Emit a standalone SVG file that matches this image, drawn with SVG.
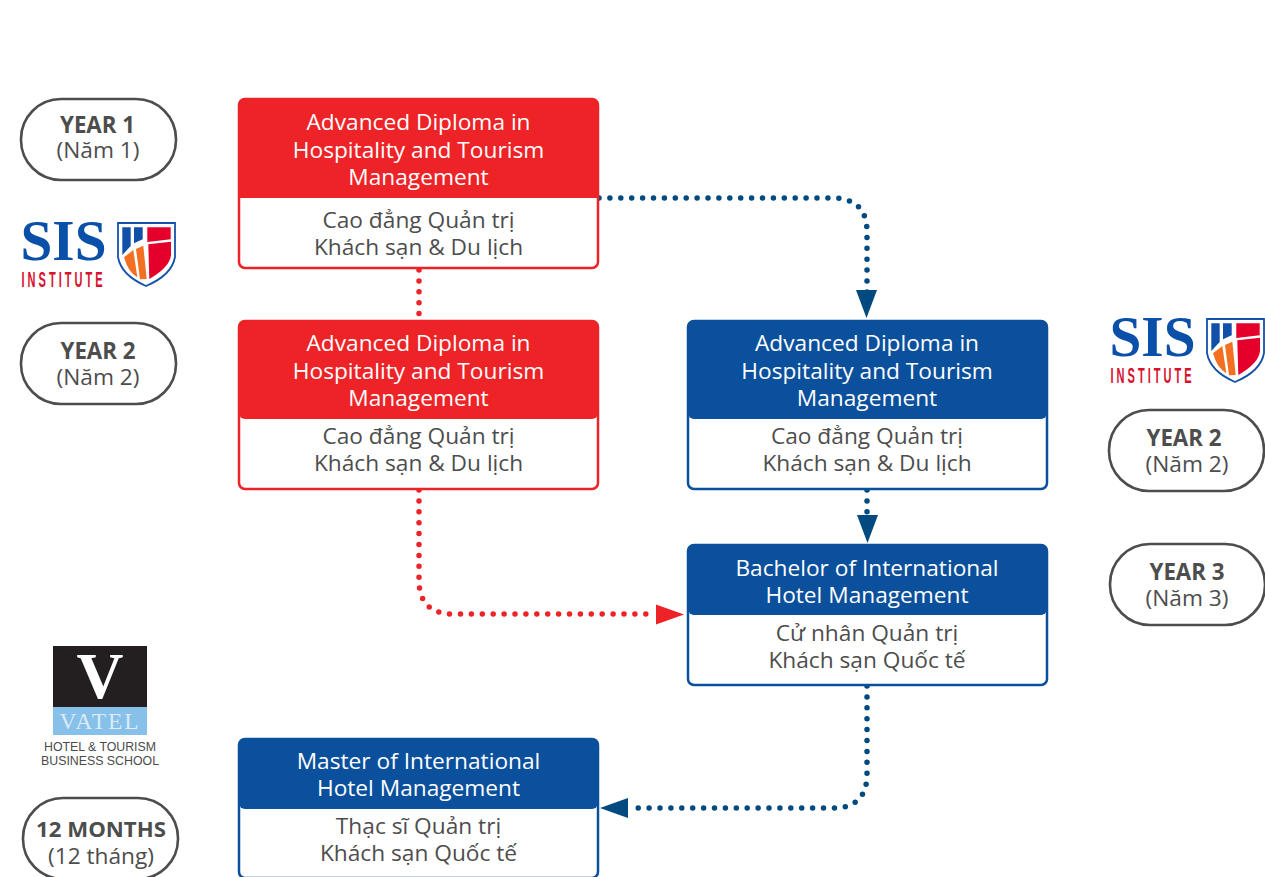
<svg xmlns="http://www.w3.org/2000/svg" width="1265" height="877" viewBox="0 0 1265 877">
<style>
text{font-family:"Open Sans","Liberation Sans",sans-serif;text-anchor:middle}
.h{font-size:22.7px;fill:#fff}
.b{font-size:22.7px;fill:#4d4d4d}
.y{font-size:22.3px;fill:#4d4d4d;font-weight:700}
.n{font-size:22.7px;fill:#4d4d4d}
.m{font-size:22.2px}
.pill{fill:#fff;stroke:#4d4d4d;stroke-width:2.6}
.sis{font-family:"Liberation Serif",serif;font-weight:700;font-size:57px;fill:#0b50a8}
.inst{font-family:"Liberation Sans",sans-serif;font-weight:700;font-size:22px;fill:#d8112f;letter-spacing:6px}
.d{fill:none;stroke-width:5.5;stroke-linecap:round;stroke-dasharray:0 10.9}
.rb{stroke:#ee2327;fill:#fff;stroke-width:2.5}.rf{fill:#ee2327}
.bb{stroke:#0b509c;fill:#fff;stroke-width:2.5}.bf{fill:#0b509c}
</style>
<defs>
<g id="logo">
<text class="sis" x="63.500" y="260" textLength="86" lengthAdjust="spacingAndGlyphs">SIS</text>
<text class="inst" x="63.500" y="287" textLength="84" lengthAdjust="spacingAndGlyphs">INSTITUTE</text>
<path d="M118 223H175V257Q172 275 146 286Q121 275 118 257Z" fill="#fff" stroke="#1352a8" stroke-width="1.800"/>
<path d="M122.300 227.300H130.700V246L122.300 255Z" fill="#1050a8"/>
<path d="M134 227.300H142.700V239.300L134 243.300Z" fill="#1050a8"/>
<path d="M147.300 227.300H170.700V239.300L147.300 242Z" fill="#e4002b"/>
<path d="M124 257.300L133.300 250L137.300 277.300Q128 272 124 257.300Z" fill="#f36f21"/>
<path d="M136 249L143.300 245.700L146.700 279L140 279.300Z" fill="#f36f21"/>
<path d="M148.300 244.300L171 241.700V255Q170 267 149.300 279Z" fill="#e4002b"/>
</g>
</defs>
<g id="connectors">
<path class="d" stroke="#004a80" d="M599 198H832Q867 198 867 232V292"/>
<path class="d" stroke="#ee2327" d="M419 270V320"/>
<path class="d" stroke="#ee2327" d="M419 490V580Q419 614 453 614H656"/>
<path class="d" stroke="#004a80" d="M867 490V516"/>
<path class="d" stroke="#004a80" d="M867 686V774Q867 808 833 808H630"/>
<path fill="#004a80" d="M856 290H877L866.500 318Z"/>
<path fill="#004a80" d="M857 515H878L867.500 543Z"/>
<path fill="#ee2327" d="M656 604.500V624.500L684 614.500Z"/>
<path fill="#004a80" d="M628 798V818L600 808Z"/>
</g>
<g id="year1"><rect class="pill" x="21" y="99" width="155" height="81" rx="40"/><text class="y" x="97.500" y="133">YEAR 1</text><text class="n" x="98" y="158">(Năm 1)</text></g>
<g id="year2-left"><rect class="pill" x="21" y="323" width="155" height="81" rx="40"/><text class="y" x="98" y="359">YEAR 2</text><text class="n" x="98" y="385">(Năm 2)</text></g>
<g id="year2-right"><rect class="pill" x="1109" y="410" width="155" height="81" rx="40"/><text class="y" x="1184" y="446">YEAR 2</text><text class="n" x="1187" y="472">(Năm 2)</text></g>
<g id="year3"><rect class="pill" x="1110" y="544" width="155" height="81" rx="40"/><text class="y" x="1187" y="580">YEAR 3</text><text class="n" x="1187" y="606">(Năm 3)</text></g>
<g id="months"><rect class="pill" x="23" y="798" width="155" height="81" rx="40"/><text class="y m" x="101" y="837">12 MONTHS</text><text class="n" x="101" y="864">(12 tháng)</text></g>
<g id="sis-left"><use href="#logo"/></g>
<g id="sis-right"><use href="#logo" x="1089" y="96"/></g>
<g id="vatel">
<rect x="53" y="646" width="94" height="61" fill="#231f20"/>
<rect x="53" y="707" width="94" height="28" fill="#87c0e8"/>
<text x="100" y="698" style="font-family:'Liberation Serif',serif;font-size:65px;font-weight:700;fill:#fff">V</text>
<text x="100" y="729" textLength="81" lengthAdjust="spacingAndGlyphs" style="font-family:'Liberation Serif',serif;font-size:24px;fill:#d9ecf8;letter-spacing:2px">VATEL</text>
<text x="100" y="751" style="font-family:'Liberation Sans',sans-serif;font-size:12.500px;fill:#4a4a4a" textLength="112" lengthAdjust="spacingAndGlyphs">HOTEL &amp; TOURISM</text>
<text x="100" y="765" style="font-family:'Liberation Sans',sans-serif;font-size:12.500px;fill:#4a4a4a" textLength="118" lengthAdjust="spacingAndGlyphs">BUSINESS SCHOOL</text>
</g>
<g id="n1"><rect class="rb" x="239" y="99" width="359" height="169" rx="6"/><path class="rf" d="M245 99H592a6 6 0 0 1 6 6V198H239V105a6 6 0 0 1 6-6Z"/>
<text class="h" x="418.500" y="130">Advanced Diploma in</text><text class="h" x="418.500" y="158">Hospitality and Tourism</text><text class="h" x="418.500" y="185">Management</text><text class="b" x="418.500" y="228">Cao đẳng Quản trị</text><text class="b" x="418.500" y="255">Khách sạn &amp; Du lịch</text></g>
<g id="n2"><rect class="rb" x="239" y="321" width="359" height="168" rx="6"/><path class="rf" d="M245 321H592a6 6 0 0 1 6 6V413a6 6 0 0 1-6 6H245a6 6 0 0 1-6-6V327a6 6 0 0 1 6-6Z"/>
<text class="h" x="418.500" y="351">Advanced Diploma in</text><text class="h" x="418.500" y="379">Hospitality and Tourism</text><text class="h" x="418.500" y="406">Management</text><text class="b" x="418.500" y="444">Cao đẳng Quản trị</text><text class="b" x="418.500" y="471">Khách sạn &amp; Du lịch</text></g>
<g id="n3"><rect class="bb" x="688" y="321" width="359" height="168" rx="6"/><path class="bf" d="M694 321H1041a6 6 0 0 1 6 6V413a6 6 0 0 1-6 6H694a6 6 0 0 1-6-6V327a6 6 0 0 1 6-6Z"/>
<text class="h" x="867" y="351">Advanced Diploma in</text><text class="h" x="867" y="379">Hospitality and Tourism</text><text class="h" x="867" y="406">Management</text><text class="b" x="867" y="444">Cao đẳng Quản trị</text><text class="b" x="867" y="471">Khách sạn &amp; Du lịch</text></g>
<g id="n4"><rect class="bb" x="688" y="545" width="359" height="140" rx="6"/><path class="bf" d="M694 545H1041a6 6 0 0 1 6 6V609a6 6 0 0 1-6 6H694a6 6 0 0 1-6-6V551a6 6 0 0 1 6-6Z"/>
<text class="h" x="867" y="576">Bachelor of International</text><text class="h" x="867" y="603">Hotel Management</text><text class="b" x="867" y="641">Cử nhân Quản trị</text><text class="b" x="867" y="668">Khách sạn Quốc tế</text></g>
<g id="n5"><rect class="bb" x="239" y="739" width="359" height="139" rx="6"/><path class="bf" d="M245 739H592a6 6 0 0 1 6 6V803a6 6 0 0 1-6 6H245a6 6 0 0 1-6-6V745a6 6 0 0 1 6-6Z"/>
<text class="h" x="418.500" y="769">Master of International</text><text class="h" x="418.500" y="796">Hotel Management</text><text class="b" x="418.500" y="834">Thạc sĩ Quản trị</text><text class="b" x="418.500" y="861">Khách sạn Quốc tế</text></g>
</svg>
